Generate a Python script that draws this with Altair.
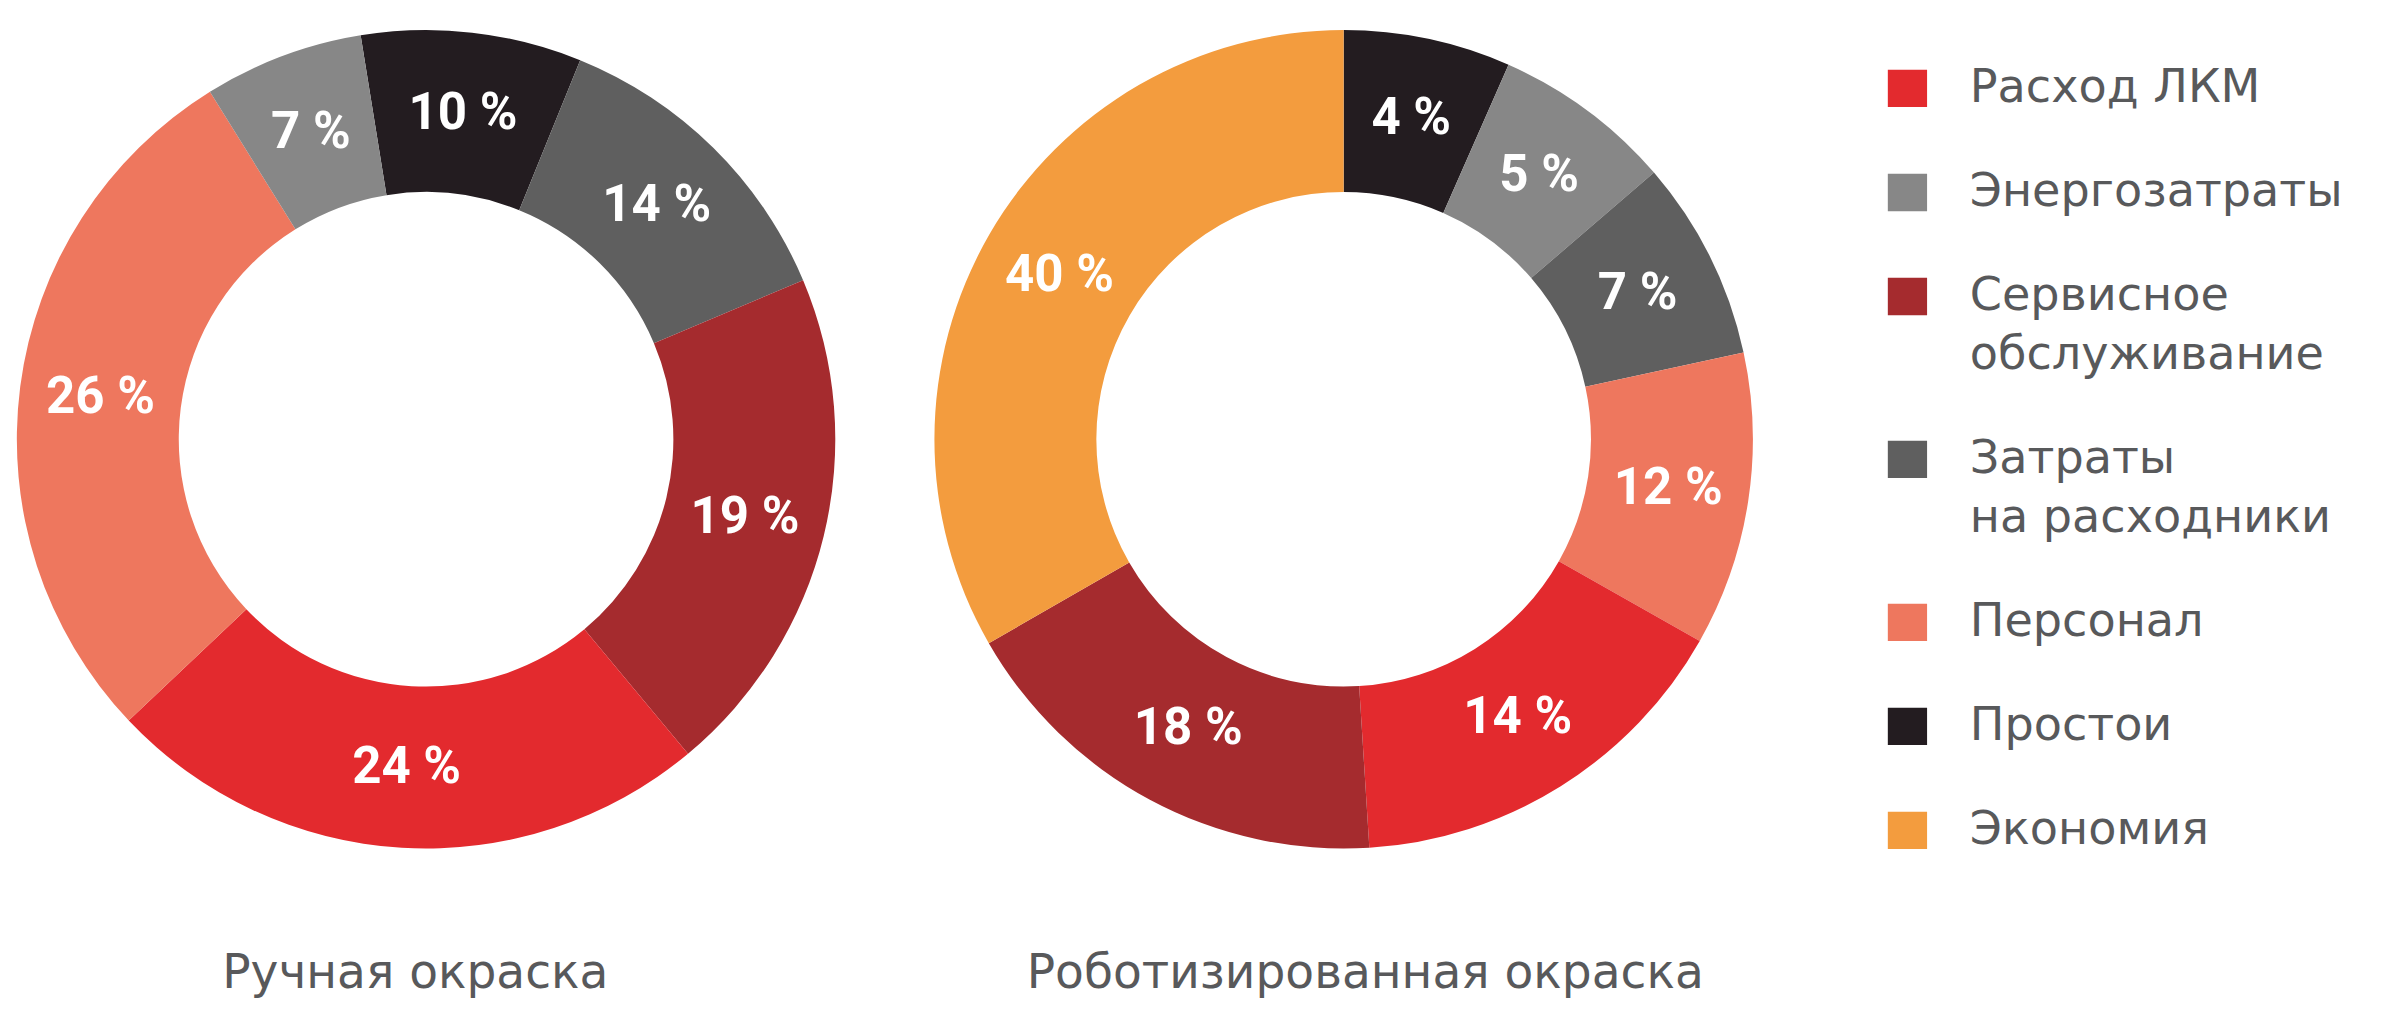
#!/usr/bin/env python3
"""Two donut charts: manual vs robotic painting cost structure
"""
import math

import altair as alt
import pandas as pd

CATEGORIES = ['Расход ЛКМ', 'Энергозатраты', 'Сервисное обслуживание',
              'Затраты на расходники', 'Персонал', 'Простои', 'Экономия']
COLORS = ['#E32A2E', '#878787', '#A52B2E', '#5F5F5F', '#EE775E', '#231C20', '#F39C3E']

# manual painting, clockwise from the top; pct = printed label, arc = share as drawn
manual_cat = ['Простои', 'Затраты на расходники', 'Сервисное обслуживание',
              'Расход ЛКМ', 'Персонал', 'Энергозатраты']
manual_pct = [10, 14, 19, 24, 26, 7]
manual_arc = [8.7, 12.5, 20.3, 24.0, 28.2, 6.3]

# robotic painting
robot_cat = ['Простои', 'Энергозатраты', 'Затраты на расходники', 'Персонал',
             'Расход ЛКМ', 'Сервисное обслуживание', 'Экономия']
robot_pct = [4, 5, 7, 12, 14, 18, 40]
robot_arc = [6.6, 7.1, 7.9, 11.6, 15.8, 17.7, 33.3]

TEXT_GRAY = '#58595B'
R_OUT = 417
R_IN = 252

label_expr = (
    "datum.label == 'Сервисное обслуживание' ? ['Сервисное', 'обслуживание'] : "
    "datum.label == 'Затраты на расходники' ? ['Затраты', 'на расходники'] : datum.label"
)

color = alt.Color(
    'cat:N',
    scale=alt.Scale(domain=CATEGORIES, range=COLORS),
    legend=alt.Legend(
        title=None,
        orient='right',
        offset=98,
        padding=36,
        symbolType='M-1,-0.95H1V0.95H-1Z',
        symbolSize=1600,
        symbolStrokeWidth=0,
        symbolOpacity=1,
        labelFont='DejaVu Sans',
        labelFontSize=47,
        labelColor=TEXT_GRAY,
        labelLimit=600,
        labelOffset=40,
        rowPadding=58,
        labelExpr=label_expr,
    ),
)


def donut(cats, pct, arc, start_deg, title, title_dx):
    df = pd.DataFrame({
        'cat': cats,
        'arc': arc,
        'label': [f'{p} %' for p in pct],
        'k': list(range(len(cats))),
    })
    start = math.radians(start_deg)
    base = alt.Chart(df).encode(
        theta=alt.Theta('arc:Q', stack=True,
                        scale=alt.Scale(range=[start, start + 2 * math.pi])),
        order=alt.Order('k:Q'),
    )
    ring = base.mark_arc(radius=R_OUT, radius2=R_IN).encode(color=color)
    text = base.mark_text(
        radius=(R_OUT + R_IN) / 2,
        font='Roboto',
        fontSize=52,
        fontWeight='bold',
        color='white',
    ).encode(text='label:N')
    return alt.layer(ring, text).properties(
        width=2 * R_OUT,
        height=2 * R_OUT,
        title=alt.TitleParams(
            text=title,
            orient='bottom',
            anchor='middle',
            font='DejaVu Sans',
            fontSize=48,
            fontWeight='normal',
            color=TEXT_GRAY,
            offset=104,
            dx=title_dx,
        ),
    )


left = donut(manual_cat, manual_pct, manual_arc, -9.2, 'Ручная окраска', -11)
right = donut(robot_cat, robot_pct, robot_arc, 0, 'Роботизированная окраска', 22)

chart = alt.hconcat(left, right, spacing=101).resolve_scale(
    theta='independent', color='shared'
).properties(
    padding={'left': 9, 'top': 13, 'right': 0, 'bottom': 0}
).configure(
    style={'guide-label': {'lineHeight': 60}}
).configure_view(stroke=None)

chart.save('out.html', embed_options={'renderer': 'svg', 'actions': False})
